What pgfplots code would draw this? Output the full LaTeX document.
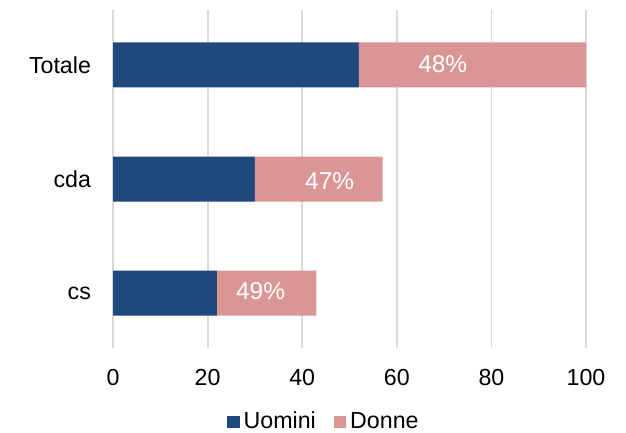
\documentclass[border=0pt]{standalone}
\usepackage{pgfplots}
\pgfplotsset{compat=1.18}
\usepackage{fontspec}
\setmainfont{Liberation Sans}
\definecolor{uomini}{HTML}{1F497D}
\definecolor{donne}{HTML}{D99694}
\definecolor{gridc}{HTML}{D9D9D9}
\pgfplotsset{sqlegend/.style={legend image code/.code={\fill[##1] (0pt,-3.1pt) rectangle (6.2pt,3.1pt);}}}
\begin{document}
\fontsize{11.5}{13.8}\selectfont
\begin{tikzpicture}
\useasboundingbox (-56.5pt,-42.5pt) rectangle (256.5pt,174pt);
\begin{axis}[
  scale only axis,
  width=236.5pt, height=169pt,
  bar width=22.5pt,
  xmin=0, xmax=100,
  ymin=-0.48, ymax=2.48,
  xtick={0,20,40,60,80,100},
  ytick={0,1,2},
  yticklabels={cs,cda,Totale},
  axis line style={draw=none},
  major tick length=0pt,
  xmajorgrids,
  grid style={gridc, line width=0.9pt},
  /pgf/number format/assume math mode=true,
  tick label style={font=\fontsize{11.6}{13.8}\selectfont},
  xticklabel style={yshift=-6.5pt},
  yticklabel style={xshift=-7pt},
  legend columns=2,
  legend style={at={(axis description cs:0.448,-0.219)}, anchor=center,
    draw=none, fill=none, font=\fontsize{11.6}{13.8}\selectfont,
    /tikz/every even column/.append style={column sep=7pt},
    inner sep=0pt},
]
\addplot[xbar stacked, sqlegend, fill=uomini, draw=none] coordinates {(22,0) (30,1) (52,2)};
\addlegendentry{Uomini}
\addplot[xbar stacked, sqlegend, fill=donne, draw=none] coordinates {(21,0) (27,1) (48,2)};
\addlegendentry{Donne}
\addplot[forget plot, only marks, mark=none,
  point meta=explicit symbolic,
  nodes near coords={\pgfplotspointmeta},
  every node near coord/.append style={text=white, anchor=center,
    font=\fontsize{12.2}{14}\selectfont, inner sep=0pt}]
  coordinates {(31.2,0.022)[49\%] (45.8,0.978)[47\%] (69.7,2.008)[48\%]};
\end{axis}
\end{tikzpicture}
\end{document}
